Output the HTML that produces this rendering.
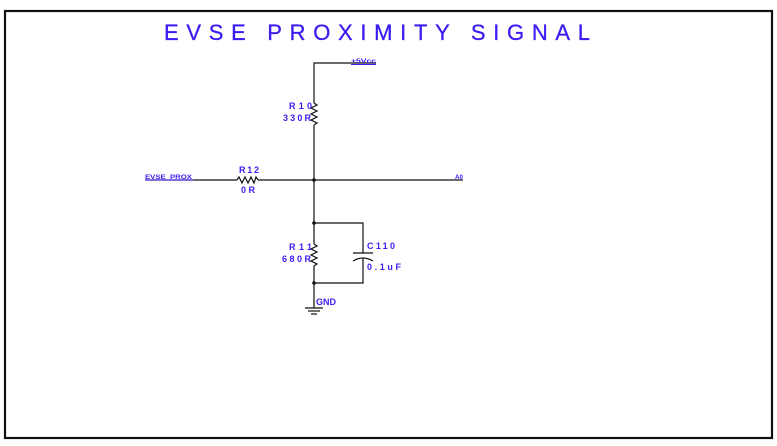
<!DOCTYPE html>
<html><head><meta charset="utf-8"><style>
html,body{margin:0;padding:0;background:#fff;}
svg{display:block;}
text{font-family:"Liberation Sans",sans-serif;fill:#3a1df0;}
</style></head><body>
<svg width="777" height="446" viewBox="0 0 777 446" xmlns="http://www.w3.org/2000/svg">
<rect x="5" y="11" width="767" height="427" fill="none" stroke="#111" stroke-width="2.2"/>
<text x="164" y="40" font-size="22" textLength="426" lengthAdjust="spacing" stroke="#3a1df0" stroke-width="0.3">EVSE PROXIMITY SIGNAL</text>
<g stroke="#111" stroke-width="1.2" fill="none">
<polyline points="376,63 314,63 314,103"/>
<polyline points="314,103 317,105 311,108 317,111 311,114 317,117 311,120 317,123 314,125"/>
<line x1="314" y1="125" x2="314" y2="244"/>
<line x1="145" y1="180" x2="237" y2="180"/>
<polyline points="237,180 239,177 242,183 245,177 248,183 251,177 254,183 256,177 258,180"/>
<line x1="258" y1="180" x2="463" y2="180"/>
<polyline points="314,244 317,246 311,249 317,252 311,255 317,258 311,261 317,264 314,266"/>
<line x1="314" y1="266" x2="314" y2="308"/>
<polyline points="314,223 363,223 363,253"/>
<line x1="353" y1="253" x2="373" y2="253"/>
<path d="M353,261 Q363,255 373,261"/>
<polyline points="363,258 363,283 314,283"/>
<line x1="305" y1="308" x2="323" y2="308"/>
<line x1="308" y1="311" x2="320" y2="311"/>
<line x1="311" y1="314" x2="317" y2="314"/>
</g>
<g fill="#111"><circle cx="314" cy="180" r="1.8"/><circle cx="314" cy="223" r="1.8"/><circle cx="314" cy="283" r="1.8"/></g>
<g font-size="9" font-weight="bold">
<text x="351" y="63" font-size="6.5" textLength="25" lengthAdjust="spacingAndGlyphs">+5Vcc</text>
<line x1="351" y1="64.5" x2="376" y2="64.5" stroke="#3a1df0" stroke-width="1"/>
<text x="145" y="179" font-size="6.5" textLength="47" lengthAdjust="spacingAndGlyphs">EVSE_PROX</text>
<line x1="145" y1="180" x2="193" y2="180" stroke="#3a1df0" stroke-width="1"/>
<text x="455" y="179" font-size="6.5" textLength="8" lengthAdjust="spacingAndGlyphs">A0</text>
<text x="289" y="109" textLength="23" lengthAdjust="spacing">R10</text>
<text x="283" y="121" textLength="28" lengthAdjust="spacing">330R</text>
<text x="239" y="173" textLength="20" lengthAdjust="spacing">R12</text>
<text x="241" y="193" textLength="14" lengthAdjust="spacing">0R</text>
<text x="289" y="250" textLength="23" lengthAdjust="spacing">R11</text>
<text x="282" y="262" textLength="29" lengthAdjust="spacing">680R</text>
<text x="367" y="249" textLength="28" lengthAdjust="spacing">C110</text>
<text x="367" y="270" textLength="34" lengthAdjust="spacing">0.1uF</text>
<text x="316" y="305" textLength="20" lengthAdjust="spacing">GND</text>
</g>
</svg>
</body></html>
